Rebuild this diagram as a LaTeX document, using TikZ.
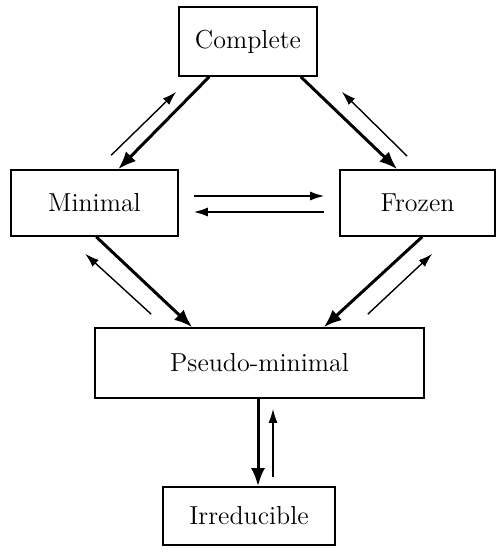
\documentclass[tikz,border=0pt]{standalone}
\usepackage{tikz}
\usetikzlibrary{arrows.meta,calc}
\tikzset{
  box/.style={draw, line width=0.8pt, align=center, inner sep=0pt, font=\fontsize{13}{15}\selectfont},
  thickarrow/.style={-{Latex[length=9pt,width=7pt]}, line width=1.5pt},
  thinarrow/.style={-{Latex[length=7pt,width=4.5pt]}, line width=0.7pt},
}

\begin{document}
\begin{tikzpicture}[x=0.5pt,y=-0.5pt]
  \useasboundingbox (0,0) rectangle (497,552);

  % states
  \node[box, minimum width=69pt, minimum height=34.5pt] (complete) at (248,41.5) {Complete};
  \node[box, minimum width=83.5pt, minimum height=33pt] (minimal) at (94.5,203) {Minimal};
  \node[box, minimum width=77.5pt, minimum height=33pt] (frozen) at (417.5,203) {Frozen};
  \node[box, minimum width=164.5pt, minimum height=35pt] (pseudo) at (259.5,363) {Pseudo-minimal};
  \node[box, minimum width=86pt, minimum height=29pt] (irred) at (249,516) {Irreducible};

  % top
  \draw[thickarrow] ($(complete.south west)+(31,0)$) -- ($(minimal.north west)+(108,0)$);
  \draw[thinarrow] ($(minimal.north west)+(101,-14)$) -- ($(complete.south west)+(-2,15)$);
  \draw[thickarrow] ($(complete.south east)+(-17,0)$) -- ($(frozen.north west)+(58,0)$);
  \draw[thinarrow] ($(frozen.north west)+(68,-13)$) -- ($(complete.south east)+(24,15)$);

  % middle
  \draw[thinarrow] ($(minimal.east)+(15,-7)$) -- ($(frozen.west)+(-15,-7)$);
  \draw[thinarrow] ($(frozen.west)+(-15,9)$) -- ($(minimal.east)+(15,9)$);

  % bottom
  \draw[thickarrow] ($(minimal.south west)+(86,0)$) -- ($(pseudo.north west)+(98,0)$);
  \draw[thinarrow] ($(pseudo.north west)+(57,-13)$) -- ($(minimal.south west)+(75,17)$);
  \draw[thickarrow] ($(frozen.south west)+(83,0)$) -- ($(pseudo.north east)+(-101,0)$);
  \draw[thinarrow] ($(pseudo.north east)+(-57,-13)$) -- ($(frozen.south west)+(93,17)$);

  \draw[thickarrow] ($(pseudo.south)+(-1.5,0)$) -- ($(irred.north)+(9,0)$);
  \draw[thinarrow] ($(irred.north)+(24,-9)$) -- ($(pseudo.south)+(13.5,10)$);

\end{tikzpicture}
\end{document}
